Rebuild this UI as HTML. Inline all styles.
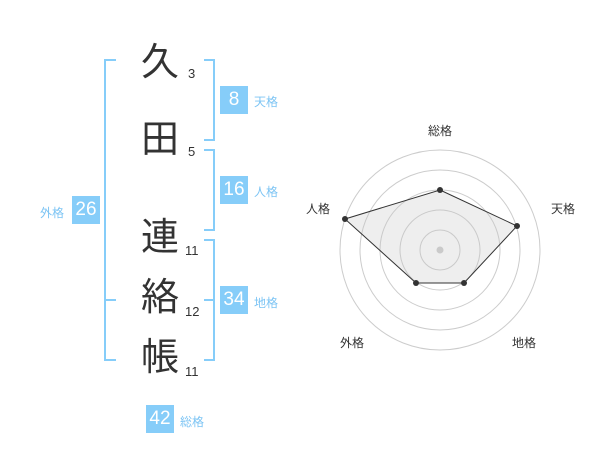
<!DOCTYPE html>
<html><head><meta charset="utf-8"><style>
body{margin:0;width:600px;height:470px;background:#fff;position:relative;font-family:"Liberation Sans","Noto Sans CJK JP",sans-serif;overflow:hidden}
.a{position:absolute}
.k{position:absolute;left:140px;font-size:38px;color:#333;line-height:40px;width:40px;text-align:center}
.n{position:absolute;font-size:13px;color:#333;line-height:14px}
.b{position:absolute;width:28px;height:28px;background:#86cdf9;color:#fff;font-size:19px;line-height:28px;text-align:center}
.l{position:absolute;font-size:12px;color:#7cc4f4;line-height:14px}
.ln{position:absolute;background:#86cdf9}
</style></head><body>
<div class="k" style="top:43px">久</div><div class="n" style="left:188px;top:67px">3</div>
<div class="k" style="top:120px">田</div><div class="n" style="left:188px;top:145px">5</div>
<div class="k" style="top:218px">連</div><div class="n" style="left:185px;top:244px">11</div>
<div class="k" style="top:278px">絡</div><div class="n" style="left:185px;top:305px">12</div>
<div class="k" style="top:338px">帳</div><div class="n" style="left:185px;top:365px">11</div>
<!-- left bracket -->
<div class="ln" style="left:104px;top:59px;width:2px;height:302px"></div>
<div class="ln" style="left:104px;top:59px;width:12px;height:2px"></div>
<div class="ln" style="left:104px;top:299px;width:12px;height:2px"></div>
<div class="ln" style="left:104px;top:359px;width:12px;height:2px"></div>
<!-- right brackets -->
<div class="ln" style="left:213px;top:59px;width:2px;height:82px"></div>
<div class="ln" style="left:204px;top:59px;width:10px;height:2px"></div>
<div class="ln" style="left:204px;top:139px;width:10px;height:2px"></div>
<div class="ln" style="left:213px;top:149px;width:2px;height:82px"></div>
<div class="ln" style="left:204px;top:149px;width:10px;height:2px"></div>
<div class="ln" style="left:204px;top:229px;width:10px;height:2px"></div>
<div class="ln" style="left:213px;top:239px;width:2px;height:122px"></div>
<div class="ln" style="left:204px;top:239px;width:10px;height:2px"></div>
<div class="ln" style="left:204px;top:299px;width:10px;height:2px"></div>
<div class="ln" style="left:204px;top:359px;width:10px;height:2px"></div>
<div class="b" style="left:220px;top:86px">8</div><div class="l" style="left:254px;top:95px">天格</div>
<div class="b" style="left:220px;top:176px">16</div><div class="l" style="left:254px;top:185px">人格</div>
<div class="b" style="left:220px;top:286px">34</div><div class="l" style="left:254px;top:296px">地格</div>
<div class="b" style="left:72px;top:196px">26</div><div class="l" style="left:40px;top:206px">外格</div>
<div class="b" style="left:146px;top:405px">42</div><div class="l" style="left:180px;top:415px">総格</div>
<svg class="a" style="left:0;top:0" width="600" height="470">
<g fill="none" stroke="#ccc" stroke-width="1">
<circle cx="440" cy="250" r="20"/><circle cx="440" cy="250" r="40"/><circle cx="440" cy="250" r="60"/><circle cx="440" cy="250" r="80"/><circle cx="440" cy="250" r="100"/>
</g>
<circle cx="440" cy="250" r="3.5" fill="#ccc"/>
<polygon points="440,190 517,226 464,283 416,283 345,219" fill="rgba(200,200,200,0.3)" stroke="#333" stroke-width="1"/>
<g fill="#333"><circle cx="440" cy="190" r="3"/><circle cx="517" cy="226" r="3"/><circle cx="464" cy="283" r="3"/><circle cx="416" cy="283" r="3"/><circle cx="345" cy="219" r="3"/></g>
<g font-size="12" fill="#333" font-family="Liberation Sans,Noto Sans CJK JP,sans-serif" text-anchor="middle">
<text x="440" y="135">総格</text><text x="563" y="213">天格</text><text x="524" y="347">地格</text><text x="352" y="347">外格</text><text x="318" y="213">人格</text>
</g>
</svg>
</body></html>
